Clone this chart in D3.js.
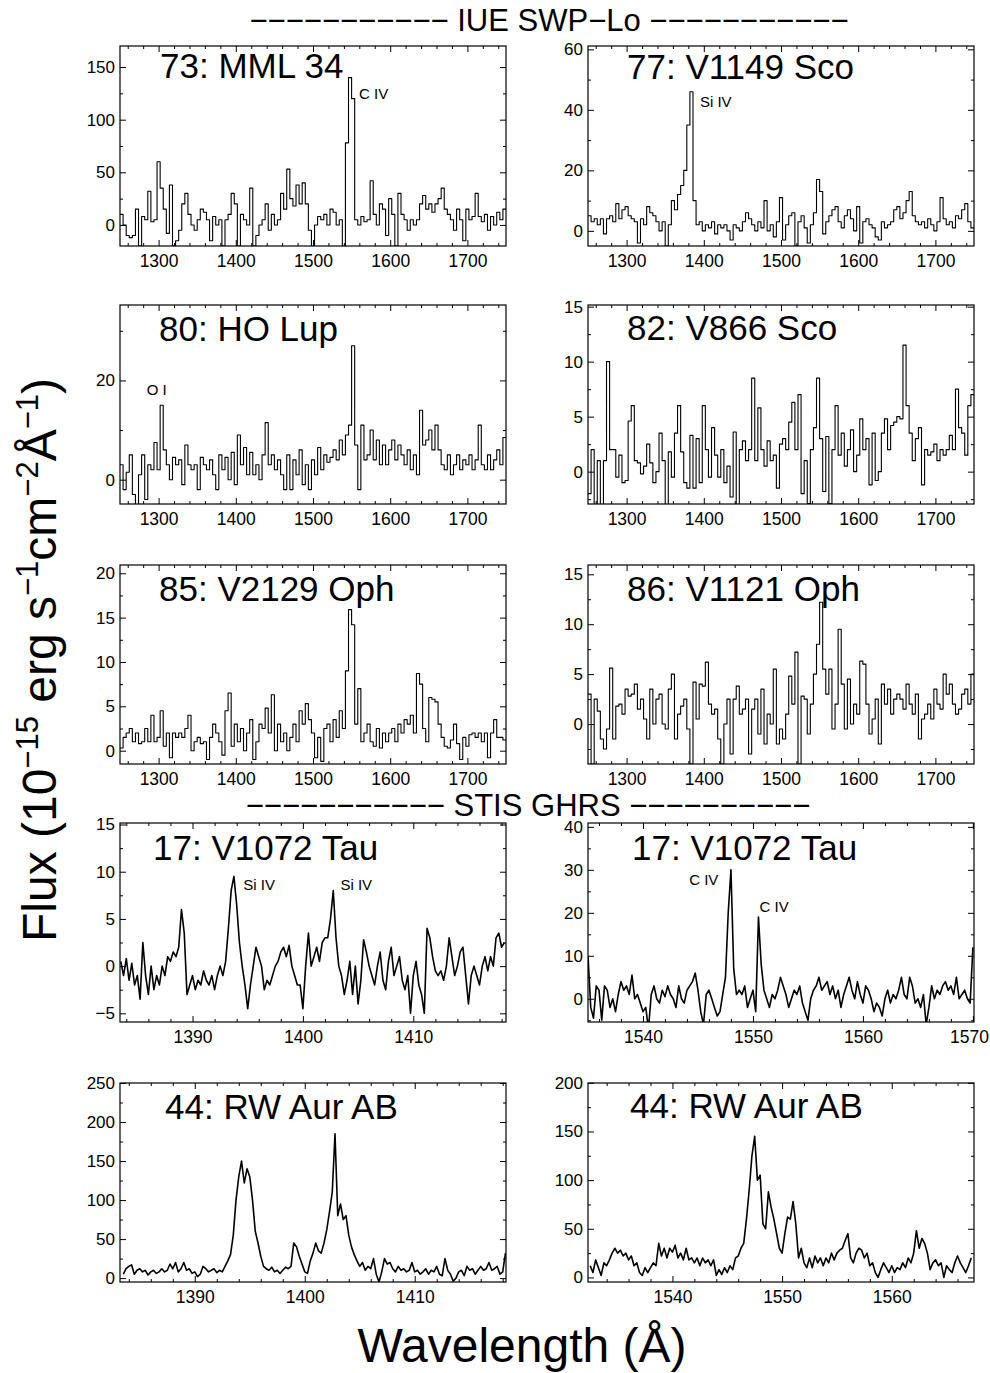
<!DOCTYPE html>
<html><head><meta charset="utf-8">
<script src="https://cdn.jsdelivr.net/npm/d3@7"></script>
<style>
body{margin:0;background:#fff}
svg{display:block}
text{font-family:"Liberation Sans",Arial,Helvetica,sans-serif;fill:#000}
</style>
</head><body>
<svg id="chart" width="990" height="1373"></svg>
<script>
// ---------------- DATA ----------------
// IUE SWP-Lo spectra: flux (1e-15 erg/s/cm2/A), bins start at iueStart, width iueStep (A)
const iueStart = 1250, iueStep = 4;
const fluxMML34 = [
 10,0,-10,-12,-10,15,-20,8,5,32,
 3,5,60,35,15,-8,38,-20,-15,-5,
 20,30,10,0,-5,5,15,12,5,-15,
 8,0,5,-20,5,10,30,20,-20,10,
 5,0,35,-20,-10,0,5,20,-5,10,
 0,5,30,15,53,25,18,38,20,40,
 20,-5,-20,0,8,5,10,0,15,12,
 0,5,-20,78,140,120,5,0,8,3,
 5,42,10,0,20,15,-10,25,10,-20,
 30,10,5,-5,5,0,5,20,28,15,
 20,12,20,25,35,15,10,5,-5,15,
 5,-15,15,5,8,30,8,3,10,-5,
 8,0,12,5,15];
const fluxV1149Sco = [
 5,3,4,2,4,-1,4,5,3,9,
 4,7,8,5,4,3,-4,4,2,8,
 6,5,3,0,3,-5,2,10,7,12,
 15,20,35,46,10,2,3,0,2,1,
 3,-1,2,1,2,0,-3,2,1,0,
 3,6,4,2,0,3,1,10,0,2,
 -2,3,11,-3,2,5,6,-5,3,5,
 1,-4,2,6,17,13,-1,3,5,7,
 8,3,1,5,7,4,0,8,-4,3,
 4,2,1,-2,-3,3,1,2,3,7,
 8,4,6,10,13,5,3,2,3,1,
 4,2,0,3,11,4,2,3,1,5,
 4,7,9,3,1];
const fluxHOLup = [
 3,-2,1.5,5,-3,-5,1,5,-4,3,
 2,7.5,2,15,6,3,0,4.5,3,4,
 -1,7,3,2,3,-2,4.5,3,2,4,
 1,-2,5,2,4.5,0,5.5,-1,9,3,
 6.5,1,5.5,1,3,0,5,11.5,3,5,
 2,4,1,-2,5,-2,4,1,6,-1,
 3,-2,4,1,6.5,2,5,3.5,4.5,6,
 4,8,5,9,11,27,7,-2,11,4,
 5,10,4,8,3,7,3,6,8,4,
 7,5,3,6,2,5,1,14,7,8,
 10,6,11,6,3,2,5,1,3,5,
 2,4,3,5,2,4,11,3,2,5,
 2,4,6,3,8.5];
const fluxV866Sco = [
 -2,2,-3,1,-3,1,10,2,2,-0.5,
 1.5,-1,-0.8,4.6,6,1,0.8,-0.2,0.5,2.5,
 0.8,-1,0,3.5,1,-3,1.8,-0.5,3.5,6,
 1.8,-1,-1.5,3.3,-1.5,3,-1,6,2,-0.5,
 4,1.5,-0.5,2,-1,0.5,-2.3,3.6,-3,2,
 2.8,1,2,8.5,1,5.8,2,0.5,2.8,1,
 1.5,-1.5,2.5,3,2,4.5,6.3,2,7,-2,
 1,-2.9,2,4,8.5,3,-1.8,3.2,-2.9,2,
 6,1.5,3.5,0.5,2,3.8,0,1.5,4.8,2,
 3,-1.2,3.5,-0.8,0,3.5,4.8,2,4.2,4.5,
 5,4.8,11.5,6,3.5,1,3,4,-1.2,2,
 1.5,1.8,2.5,1,2,1.5,2,3.3,2,7.5,
 4,3.5,1.5,6,7];
const fluxV2129Oph = [
 0.3,1.5,2,2.5,1,2,0.8,1,2.5,1,
 4,1,1.5,4.5,0.5,2,-0.8,2,1.5,2,
 1.5,2.5,4,0,1,1.5,0.8,1,-1,1.5,
 3,2,1,-0.5,4.5,6.5,0.5,3,1,2.5,
 0,2,3.5,-1,1,3,2.5,4.8,2,6.3,
 0,3,1,2,0,1.5,3,1,4.5,3,
 5.3,3.5,2,-0.8,1.5,-1.2,2.5,3,1,3.5,
 1.5,4.5,2.5,9,15.9,14.2,3,7,1,2,
 3,1,0.5,2.5,0.3,2,1,2,2.5,1,
 3,2,3.5,3,4,2,8.7,7.5,2.5,1,
 6,5.8,5.5,3,1.5,0.5,0.3,1.2,3,0.8,
 -1,1.5,0.5,1.8,2,1.5,2,1,2,-0.8,
 2,3.5,1.5,1.5,1.2];
const fluxV1121Oph = [
 3,-4,2.5,1.3,-1.5,-2.5,-0.5,5.6,-1.5,1.8,
 2,1,3.5,2.8,3,4,1.5,2.5,0.5,-1.5,
 3.5,0,2.5,3,0,-0.5,3.5,5,-1.5,1,
 1.8,2.5,-0.5,-4,4.2,0.5,4,3.8,6.2,2,
 1,1.5,-1.5,-4,0,2.5,-3,2.5,3.8,1,
 1.5,2.5,-3,1.5,2.5,-1,3.5,-2,1,0,
 5.5,-2,-0.5,-1.5,1,4.8,2,7.2,-4,2.8,
 2.5,-1,2,5,8,12.2,5.5,3,5.5,-0.5,
 2,9.5,4,-0.5,4.5,0,2,1,6.3,6,
 2,-1,0.5,2.5,-2,4,2,3.5,1,2.5,
 3,2.5,1.5,4,2,1,3,-1.5,0.5,1,
 2,0.5,3.5,2,1.5,5,3,4,2,1,
 1.5,3,3.5,2,5];

// STIS / GHRS spectra: sampled every stisStep (A) from the given start wavelength
const stisStep = 0.25;
const tauSiStart = 1383.5;
const fluxTauSi = [
 0.5,-1,0.8,-1.5,0.3,-2,-1,-3.5,2.5,-1,
 -3,0,-2.5,-1,-2,0,-1,1,0.5,1.5,
 1,2,6,3.5,-3,-2,-1,-2.5,-1.5,-2,
 -0.5,-1.5,-2,-1,-2.5,-1,0,-1,0.5,4,
 8,9.5,6.5,2.5,0,-2,-4.5,-2,0,2,
 1,0,-2.5,-1.5,-2,-1,0,0.5,1.5,2,
 1,2.2,0,-1,-2,-2,-4.5,0,3.5,0,
 1,2,0.5,2.5,3,3,5,8,3,0,
 -1,-3,-1.5,0.5,-3,0,-4,-1.5,2.8,1.5,
 0,-1,-2,0,1.5,-1.5,-2.5,0.5,2,-1,
 0,1,-1.5,-2.5,-1,-5,-1,0.5,-2,-3,
 -5,4,3,1,-0.5,-1,-0.5,-1.5,0,3,
 1,-1,0,1.5,2,-1,-4,-1,0,-1,
 -2,0,1,-0.5,1,0,3,3.5,2,2.5];
const tauCStart = 1535.0;
const fluxTauC = [
 10,-2,-4.5,3,2,-5,3,2,-2,0,
 -3,1,4,2,3,1,5.5,0,1,-1,
 -3,-2,-7,1,3,0,-1,2,0.5,3,
 1,0,-2,3,0,-1,2,3,4,6,
 2,-3,-6,1,2,0,-2,-4,-3,1,
 5,20,30,7,1,2,1,3,-2,0,
 2,-3,19,8,2,0,-2,1,0,2,
 5,3,1,-2,0,2,1,3,-1,-3,
 -5,0,2,3,5,2,3,4,1,3,
 0,2,-2,1,3,5,2,0,4,1,
 -1,3,2,0,-3,-1,-2,-4,0,2,
 -1,1,0,2,5,1,0,5,3,-1,
 0,-2,1,-6,-2,3,0,2,1,3,
 4,2,3,1,5,0,1,2,0,-1,
 12];
const rwSiStart = 1383.5;
const fluxRwSi = [
 5,12,15,17,5,10,12,8,10,4,
 8,10,6,8,12,8,10,18,12,20,
 8,12,20,10,12,6,8,2,5,15,
 12,8,10,12,7,10,8,15,22,30,
 55,100,130,150,122,140,130,100,60,45,
 28,15,12,10,14,8,10,6,10,14,
 12,15,45,40,28,18,8,6,22,32,
 45,35,32,45,62,85,110,185,80,95,
 75,80,55,40,30,22,15,20,10,15,
 12,25,5,-5,8,25,18,20,12,8,
 15,10,12,8,10,20,8,10,5,8,
 12,5,10,8,15,5,3,25,10,5,
 -4,0,8,10,3,15,10,12,5,10,
 15,10,12,20,10,12,15,5,8,32];
const rwCStart = 1532.5;
const fluxRwC = [
 12,5,18,10,2,15,12,18,25,30,
 25,28,22,25,18,22,12,15,5,2,
 10,5,10,15,12,35,22,30,20,30,
 26,33,20,25,18,30,18,20,15,20,
 12,20,15,18,12,18,2,8,3,10,
 5,12,8,20,22,30,35,60,90,125,
 145,100,105,55,50,88,72,60,45,30,
 25,45,62,60,78,55,20,30,15,10,
 20,10,22,15,20,12,20,15,25,18,
 25,28,30,38,45,20,15,25,30,28,
 20,25,12,15,5,0,8,15,10,5,
 12,5,10,8,15,10,20,15,25,48,
 30,40,35,25,8,15,18,12,15,0,
 12,8,5,15,22,15,10,5,12,20];

// Panel titles and tick labels
const panelTitles = ["73: MML 34","77: V1149 Sco","80: HO Lup","82: V866 Sco","85: V2129 Oph",
  "86: V1121 Oph","17: V1072 Tau","17: V1072 Tau","44: RW Aur AB","44: RW Aur AB"];
const iueXTicks = [1300,1400,1500,1600,1700];
const siXTicks = [1390,1400,1410];
const tauCXTicks = [1540,1550,1560,1570];
const rwCXTicks = [1540,1550,1560];
const yTicks = [
  [0,50,100,150],[0,20,40,60],[0,20],[0,5,10,15],[0,5,10,15,20],
  [0,5,10,15],[-5,0,5,10,15],[0,10,20,30,40],[0,50,100,150,200,250],[0,50,100,150,200]];
const yMinorStep = [25,10,10,2.5,2.5,2.5,2.5,5,25,25];
// Line identifications: [panel, label, wavelength, flux]
const lineLabels = [
  [0,"C IV",1559.6,120],[1,"Si IV",1395,41],[2,"O I",1284.6,17.1],
  [6,"Si IV",1394.6,8.1],[6,"Si IV",1403.4,8.1],
  [7,"C IV",1544.2,26.5],[7,"C IV",1550.6,20.2]];

// ---------------- LAYOUT ----------------
const colX = [[120,506],[588,974]];
const rowY = [[46,246],[305,504],[565,764],[823,1022],[1083,1282]];
const panels = [
 {flux:fluxMML34,   start:iueStart,  step:iueStep,  stepped:true,  xd:[1250,1750], yd:[-20,170],     xt:iueXTicks, xm:20, tx:160, ty:78},
 {flux:fluxV1149Sco,start:iueStart,  step:iueStep,  stepped:true,  xd:[1250,1750], yd:[-5,61.1],     xt:iueXTicks, xm:20, tx:627, ty:79},
 {flux:fluxHOLup,   start:iueStart,  step:iueStep,  stepped:true,  xd:[1250,1750], yd:[-4.9,35.2],   xt:iueXTicks, xm:20, tx:159, ty:341},
 {flux:fluxV866Sco, start:iueStart,  step:iueStep,  stepped:true,  xd:[1250,1750], yd:[-2.94,15.15], xt:iueXTicks, xm:20, tx:627, ty:340},
 {flux:fluxV2129Oph,start:iueStart,  step:iueStep,  stepped:true,  xd:[1250,1750], yd:[-1.5,20.93],  xt:iueXTicks, xm:20, tx:159, ty:601},
 {flux:fluxV1121Oph,start:iueStart,  step:iueStep,  stepped:true,  xd:[1250,1750], yd:[-4,15.93],    xt:iueXTicks, xm:20, tx:627, ty:601},
 {flux:fluxTauSi,   start:tauSiStart,step:stisStep, stepped:false, xd:[1383.43,1418.4], yd:[-5.92,15.16], xt:siXTicks, xm:2, tx:153, ty:860},
 {flux:fluxTauC,    start:tauCStart, step:stisStep, stepped:false, xd:[1535,1570.1],    yd:[-5.4,40.9],   xt:tauCXTicks, xm:2, tx:632, ty:860},
 {flux:fluxRwSi,    start:rwSiStart, step:stisStep, stepped:false, xd:[1383.2,1418.3],  yd:[-5,250],      xt:siXTicks, xm:2, tx:165, ty:1119},
 {flux:fluxRwC,     start:rwCStart,  step:stisStep, stepped:false, xd:[1532.3,1567.5],  yd:[-4.7,199.8],  xt:rwCXTicks, xm:2, tx:630, ty:1118}
];

const svg = d3.select("#chart");
const defs = svg.append("defs");

function cleanAxis(g, fs){
  g.select(".domain").remove();
  g.attr("font-family", null).attr("font-size", null);
  g.selectAll("line").attr("stroke","#000").attr("stroke-width",1);
  g.selectAll("text").style("font-size", fs+"px").attr("fill","#000");
}

panels.forEach((p,i)=>{
  const [x0,x1] = colX[i%2];
  const [y0,y1] = rowY[Math.floor(i/2)];
  const x = d3.scaleLinear().domain(p.xd).range([x0,x1]);
  const y = d3.scaleLinear().domain(p.yd).range([y1,y0]);
  const g = svg.append("g");

  defs.append("clipPath").attr("id","clip"+i).append("rect")
    .attr("x",x0).attr("y",y0).attr("width",x1-x0).attr("height",y1-y0);

  const pts = p.flux.map((v,k)=>[p.start + k*p.step, v]);
  if (p.stepped) pts.push([p.start + p.flux.length*p.step, p.flux[p.flux.length-1]]);
  const line = d3.line().x(d=>x(d[0])).y(d=>y(d[1]))
    .curve(p.stepped ? d3.curveStepAfter : d3.curveLinear);
  g.append("path").attr("clip-path",`url(#clip${i})`)
    .attr("d", line(pts)).attr("fill","none").attr("stroke","#000")
    .attr("stroke-width", p.stepped ? 1.1 : 1.6).attr("stroke-linejoin","round");

  const xMin = d3.range(Math.ceil(p.xd[0]/p.xm)*p.xm, p.xd[1]+1e-9, p.xm).filter(v=>!p.xt.includes(v));
  const yStep = yMinorStep[i];
  const yMin = d3.range(Math.ceil(p.yd[0]/yStep)*yStep, p.yd[1]+1e-9, yStep).filter(v=>!yTicks[i].includes(v));

  // bottom axis with labels
  const ab = g.append("g").attr("transform",`translate(0,${y1})`)
    .call(d3.axisBottom(x).tickValues(p.xt).tickSizeInner(-6).tickSizeOuter(0).tickPadding(9).tickFormat(d3.format("d")));
  cleanAxis(ab,17.5);
  ab.selectAll("text").attr("dx", d => (x(d) > 960 ? -4 : 0));
  const abm = g.append("g").attr("transform",`translate(0,${y1})`)
    .call(d3.axisBottom(x).tickValues(xMin).tickSizeInner(-3).tickSizeOuter(0).tickFormat(""));
  cleanAxis(abm,17);
  const at = g.append("g").attr("transform",`translate(0,${y0})`)
    .call(d3.axisTop(x).tickValues(p.xt).tickSizeInner(-6).tickSizeOuter(0).tickFormat(""));
  cleanAxis(at,17);
  const atm = g.append("g").attr("transform",`translate(0,${y0})`)
    .call(d3.axisTop(x).tickValues(xMin).tickSizeInner(-3).tickSizeOuter(0).tickFormat(""));
  cleanAxis(atm,17);

  // left axis with labels
  const al = g.append("g").attr("transform",`translate(${x0},0)`)
    .call(d3.axisLeft(y).tickValues(yTicks[i]).tickSizeInner(-6).tickSizeOuter(0).tickPadding(5).tickFormat(d3.format("d")));
  cleanAxis(al,17);
  const alm = g.append("g").attr("transform",`translate(${x0},0)`)
    .call(d3.axisLeft(y).tickValues(yMin).tickSizeInner(-3).tickSizeOuter(0).tickFormat(""));
  cleanAxis(alm,17);
  const ar = g.append("g").attr("transform",`translate(${x1},0)`)
    .call(d3.axisRight(y).tickValues(yTicks[i]).tickSizeInner(-6).tickSizeOuter(0).tickFormat(""));
  cleanAxis(ar,17);
  const arm = g.append("g").attr("transform",`translate(${x1},0)`)
    .call(d3.axisRight(y).tickValues(yMin).tickSizeInner(-3).tickSizeOuter(0).tickFormat(""));
  cleanAxis(arm,17);

  // frame
  g.append("rect").attr("x",x0).attr("y",y0).attr("width",x1-x0).attr("height",y1-y0)
    .attr("fill","none").attr("stroke","#000").attr("stroke-width",1.2);

  // title
  g.append("text").attr("x",p.tx).attr("y",p.ty).style("font-size","35px").text(panelTitles[i]);

  // line labels
  lineLabels.filter(l=>l[0]===i).forEach(l=>{
    g.append("text").attr("x",x(l[2])).attr("y",y(l[3])).style("font-size","15px").text(l[1]);
  });
});

// section titles (split so the pieces sit clear of neighbouring tick labels)
const dash = "\u2212";
svg.append("text").attr("x",549).attr("y",31).attr("text-anchor","middle").style("font-size","31px")
  .text(dash.repeat(11)+" IUE SWP"+dash+"Lo "+dash.repeat(11));
svg.append("text").attr("x",528).attr("y",816).attr("text-anchor","middle").style("font-size","31px")
  .text(dash.repeat(11)+" STIS GHRS "+dash.repeat(10));

// x axis label
svg.append("text").attr("x",522).attr("y",1362).attr("text-anchor","middle").style("font-size","48px")
  .text("Wavelength (\u00C5)");

// y axis label
const yl = svg.append("text").attr("transform","translate(56,660) rotate(-90)")
  .attr("text-anchor","middle").style("font-size","48px");
const parts = [["Flux (10",0],["\u221215",1],[" erg s",0],["\u22121",1],["cm",0],["\u22122",1],["\u00C5",0],["\u22121",1],[")",0]];
let prevSup = false;
parts.forEach(([t,sup])=>{
  const ts = yl.append("tspan").text(t);
  if (sup){ ts.style("font-size","31px"); if(!prevSup) ts.attr("dy",-18); }
  else if (prevSup) ts.attr("dy",18);
  prevSup = !!sup;
});
</script>
</body></html>
